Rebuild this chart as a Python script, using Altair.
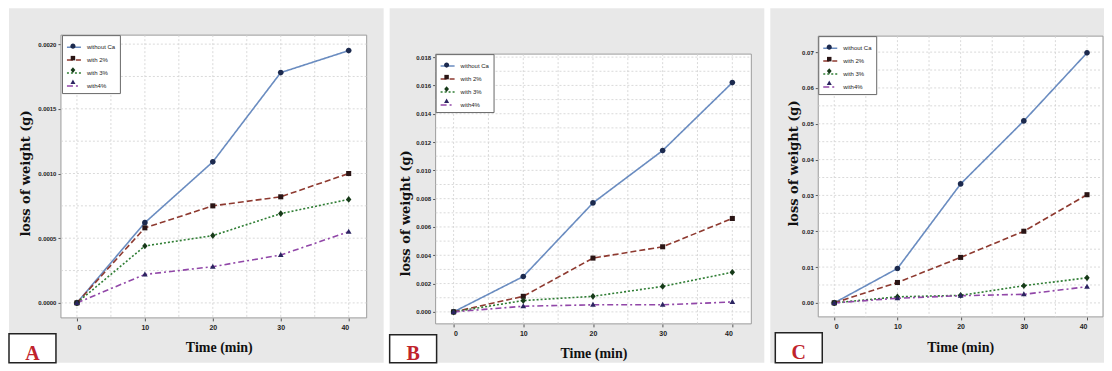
import altair as alt
import pandas as pd

# ---------------- data ----------------
times = [0, 10, 20, 30, 40]
series_names = ["without Ca", "with 2%", "with 3%", "with4%"]
marker_names = ["circle", "square", "diamond", "triangle"]

a_without = [0.0, 0.00062, 0.00109, 0.00178, 0.00195]
a_2 = [0.0, 0.00058, 0.00075, 0.00082, 0.00100]
a_3 = [0.0, 0.00044, 0.00052, 0.00069, 0.00080]
a_4 = [0.0, 0.00022, 0.00028, 0.00037, 0.00055]

b_without = [0.0, 0.0025, 0.0077, 0.0114, 0.0162]
b_2 = [0.0, 0.0011, 0.0038, 0.0046, 0.0066]
b_3 = [0.0, 0.0008, 0.0011, 0.0018, 0.0028]
b_4 = [0.0, 0.0004, 0.0005, 0.0005, 0.0007]

c_without = [0.0, 0.0096, 0.0332, 0.0508, 0.0698]
c_2 = [0.0, 0.0057, 0.0127, 0.0200, 0.0302]
c_3 = [0.0, 0.0017, 0.0021, 0.0048, 0.0070]
c_4 = [0.0, 0.0013, 0.0020, 0.0024, 0.0045]

x_ticks = [0, 10, 20, 30, 40]
x_grid = [0, 5, 10, 15, 20, 25, 30, 35, 40]
a_yticks = [0.0, 0.0005, 0.0010, 0.0015, 0.0020]
a_ygrid = [0.0, 0.00025, 0.0005, 0.00075, 0.0010, 0.00125, 0.0015, 0.00175, 0.0020]
b_yticks = [0.0, 0.002, 0.004, 0.006, 0.008, 0.010, 0.012, 0.014, 0.016, 0.018]
b_ygrid = [0.0, 0.001, 0.002, 0.003, 0.004, 0.005, 0.006, 0.007, 0.008, 0.009,
           0.010, 0.011, 0.012, 0.013, 0.014, 0.015, 0.016, 0.017, 0.018]
c_yticks = [0.0, 0.01, 0.02, 0.03, 0.04, 0.05, 0.06, 0.07]
c_ygrid = [0.0, 0.005, 0.01, 0.015, 0.02, 0.025, 0.03, 0.035, 0.04, 0.045,
           0.05, 0.055, 0.06, 0.065, 0.07]
panel_labels = ["A", "B", "C"]

line_colors = ["#6a8cc0", "#8e3a30", "#2f7d34", "#9147a8"]
marker_colors = ["#1c2a4e", "#2a1515", "#173a19", "#2b2460"]
dashes = [[1, 0], [6, 3], [2, 2], [6, 3, 2, 3]]
# small marker glyphs inside the unit symbol square
marker_paths = [
    "M0.36,0A0.36,0.36,0,1,1,-0.36,0A0.36,0.36,0,1,1,0.36,0Z",
    "M-0.32,-0.32H0.32V0.32H-0.32Z",
    "M0,-0.42L0.34,0L0,0.42L-0.34,0Z",
    "M0,-0.38L0.36,0.26H-0.36Z",
]

PANEL_H = 355
LEG_SYM = 196


def make_panel(label, values, yticks, ygrid, yfmt, lay, width):
    rows = []
    for name, mk, vals in zip(series_names, marker_names, values):
        for t, v in zip(times, vals):
            rows.append({"time": t, "loss": v, "series": name, "marker": mk})
    df = pd.DataFrame(rows)

    L, R, T, B = lay["plot"]
    xs = alt.Scale(domain=[0, 40], range=lay["xr"], nice=False, zero=False)
    ys = alt.Scale(domain=[0, yticks[-1]], range=lay["yr"], nice=False, zero=False)

    one = pd.DataFrame({"label": [label]})

    xaxis = alt.Axis(values=x_ticks, format="d", offset=-(PANEL_H - B), domain=False,
                     grid=False, tickSize=3, tickColor="#555", labelFont="Liberation Sans",
                     labelFontSize=7, labelFontWeight="bold", labelColor="#222",
                     labelPadding=3, title="Time (min)", titleFont="Liberation Serif",
                     titleFontSize=14, titleFontWeight="bold", titleColor="#111",
                     titleX=lay["xtitle"][0], titleY=lay["xtitle"][1] - B,
                     titleBaseline="middle")
    yaxis = alt.Axis(values=yticks, format=yfmt, offset=-L, domain=False, grid=False,
                     tickSize=3, tickColor="#555", labelFont="Liberation Sans",
                     labelFontSize=6, labelFontWeight="bold", labelColor="#222",
                     labelPadding=2, title="loss of weight (g)", titleFont="DejaVu Serif",
                     titleFontSize=13, titleFontWeight="bold", titleColor="#111",
                     titleAngle=270, titleX=lay["ytitle"][0] - L, titleY=lay["ytitle"][1],
                     titleBaseline="middle")

    frame = alt.Chart(one).mark_rect(fill="white", stroke="#9c9c9c", strokeWidth=1).encode(
        x=alt.value(L), x2=alt.value(R), y=alt.value(T), y2=alt.value(B))

    vgrid = alt.Chart(pd.DataFrame({"g": x_grid})).mark_rule(
        color="#d0d0d0", strokeDash=[2, 2], strokeWidth=0.8).encode(
        x=alt.X("g:Q", scale=xs, axis=xaxis), y=alt.value(T), y2=alt.value(B))
    hgrid = alt.Chart(pd.DataFrame({"g": ygrid})).mark_rule(
        color="#d0d0d0", strokeDash=[2, 2], strokeWidth=0.8).encode(
        y=alt.Y("g:Q", scale=ys, axis=yaxis), x=alt.value(L), x2=alt.value(R))

    lx, ly = lay["legend"]
    common = dict(orient="none", legendX=lx, legendY=ly, title=None,
                  symbolSize=LEG_SYM, labelFont="Liberation Sans", labelFontSize=6,
                  labelOffset=5, padding=4, rowPadding=2)
    lines = alt.Chart(df).mark_line(strokeWidth=1.6).encode(
        x=alt.X("time:Q", scale=xs, axis=xaxis),
        y=alt.Y("loss:Q", scale=ys, axis=yaxis),
        stroke=alt.Stroke("series:N", scale=alt.Scale(domain=series_names, range=line_colors),
                          legend=alt.Legend(symbolType="stroke", symbolStrokeWidth=1.5,
                                            labelColor="#222", fillColor="white",
                                            strokeColor="#666", **common)),
        strokeDash=alt.StrokeDash("series:N", scale=alt.Scale(domain=series_names, range=dashes)),
        order="time:Q",
    )
    points = alt.Chart(df).mark_point(filled=True, opacity=1, size=250, strokeWidth=0).encode(
        x=alt.X("time:Q", scale=xs, axis=xaxis),
        y=alt.Y("loss:Q", scale=ys, axis=yaxis),
        fill=alt.Fill("marker:N", scale=alt.Scale(domain=marker_names, range=marker_colors),
                      legend=alt.Legend(labelExpr="''", symbolStrokeWidth=0, **common)),
        shape=alt.Shape("marker:N", scale=alt.Scale(domain=marker_names, range=marker_paths)),
    )

    bx0, bx1, by0, by1 = lay["box"]
    box = alt.Chart(one).mark_rect(fill="white", stroke="#222", strokeWidth=1.5).encode(
        x=alt.value(bx0), x2=alt.value(bx1), y=alt.value(by0), y2=alt.value(by1))
    txt = alt.Chart(one).mark_text(font="Liberation Serif", fontSize=20, fontWeight="bold",
                                   color="#c0232b", baseline="middle", align="center").encode(
        x=alt.value((bx0 + bx1) / 2), y=alt.value(lay["boxtext_y"]), text="label:N")

    return alt.layer(frame, vgrid, hgrid, lines, points, box, txt).properties(
        width=width, height=PANEL_H)


lay_a = {"plot": (52, 358, 27, 310), "xr": [68, 340], "yr": [295, 36],
         "xtitle": (210, 340), "ytitle": (17, 165), "legend": (53, 27),
         "box": (0, 47, 326, 355), "boxtext_y": 346}
lay_b = {"plot": (46, 362, 46, 316), "xr": [64, 343], "yr": [304, 49],
         "xtitle": (204, 346), "ytitle": (16, 205), "legend": (46, 46),
         "box": (0, 47, 327, 355), "boxtext_y": 346}
lay_c = {"plot": (48, 333, 28, 309), "xr": [64, 317], "yr": [295, 44],
         "xtitle": (190, 340), "ytitle": (23, 155), "legend": (48, 28),
         "box": (5, 52, 325, 355), "boxtext_y": 345}

pa = make_panel("A", [a_without, a_2, a_3, a_4], a_yticks, a_ygrid, ".4f", lay_a, 375)
pb = make_panel("B", [b_without, b_2, b_3, b_4], b_yticks, b_ygrid, ".3f", lay_b, 375)
pc = make_panel("C", [c_without, c_2, c_3, c_4], c_yticks, c_ygrid, ".2f", lay_c, 334)

chart = alt.hconcat(pa, pb, pc, spacing=6, bounds="flush").resolve_scale(
    stroke="independent", strokeDash="independent", fill="independent", shape="independent"
).resolve_legend(
    stroke="independent", strokeDash="independent", fill="independent", shape="independent"
).properties(padding=0, background="white").configure_view(fill="#e8e8e8", stroke=None)

chart.save("out.html", embed_options={"renderer": "svg", "actions": False})
